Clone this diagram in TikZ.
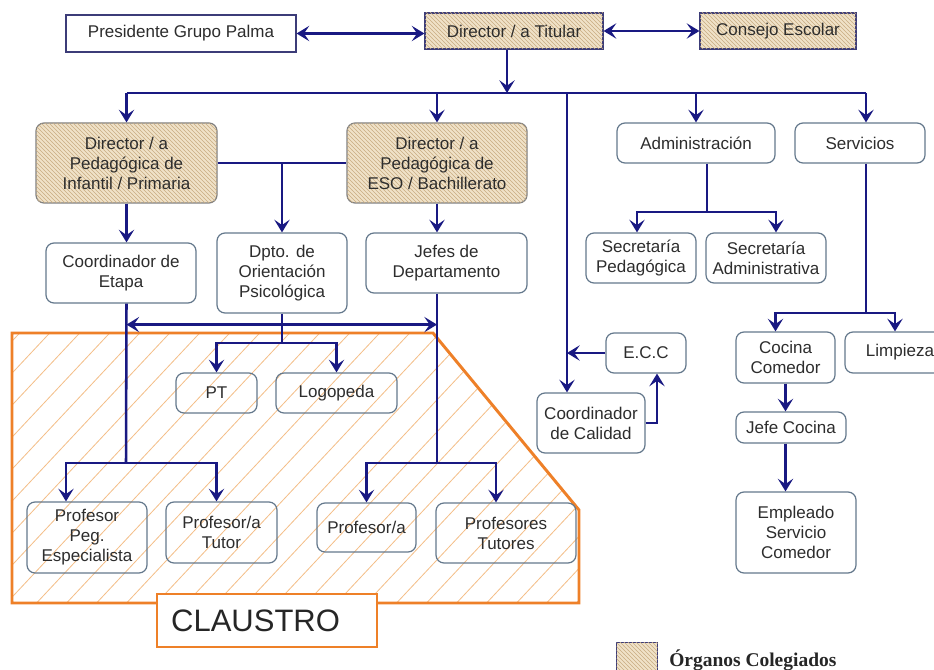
\documentclass[tikz,border=0pt]{standalone}
\usepackage{fontspec}
\setmainfont{Liberation Sans}
\newfontfamily\legfont{Liberation Serif}
\usetikzlibrary{arrows.meta, patterns, calc}

\definecolor{azulcon}{RGB}{25,25,130}
\definecolor{bordecaja}{RGB}{100,120,140}
\definecolor{bordetop}{RGB}{60,60,120}
\definecolor{textocaja}{RGB}{45,45,45}
\definecolor{tanfondo}{RGB}{240,226,200}
\definecolor{tanraya}{RGB}{200,172,130}
\definecolor{naranja}{RGB}{238,128,40}
\definecolor{naranjaclaro}{RGB}{244,190,135}

\begin{document}
\begin{tikzpicture}[x=0.75pt,y=0.75pt,yscale=-1,xscale=1,
  cargo/.style={draw=bordecaja, line width=0.9pt, rounded corners=6pt, align=center, inner sep=0pt, text=textocaja, font=\fontsize{12.75}{15}\selectfont},
  cargosq/.style={cargo, rounded corners=0pt, draw=bordetop},
  organo/.style={fill=tanfondo, postaction={pattern=north west lines, pattern color=tanraya}},
  wh/.style 2 args={minimum width=#1*0.75pt, minimum height=#2*0.75pt},
  conn/.style={draw=azulcon, line width=1.9pt},
  conarr/.style={conn, -{Stealth[length=9.5pt,width=11.5pt,inset=4pt]}},
  condbl/.style={conn, {Stealth[length=9.5pt,width=11.5pt,inset=4pt]}-{Stealth[length=9.5pt,width=11.5pt,inset=4pt]}},
  rayado/.style={draw=naranjaclaro, line width=0.6pt},
  claus/.style={draw=naranja, line width=2.2pt}]
\useasboundingbox (0,0) rectangle (934,670);
\fill[white] (0,0) rectangle (934,670);

%Shape: Claustro area
\begin{scope}
\clip (12,333) -- (433,333) -- (579,510) -- (579,603) -- (12,603) -- cycle;
\foreach \i in {-10,...,20}
  \draw[rayado] (\i*30,610) -- ++(300,-320);
\end{scope}
\draw[claus] (12,333) -- (433,333) -- (579,510) -- (579,603) -- (12,603) -- cycle;

% Top row
\node[cargosq, wh={230}{37}] (pres) at (181,33.5) {Presidente Grupo Palma};
\node[cargosq, organo, wh={178}{36}] (titular) at (514,31) {Director / a Titular};
\node[cargosq, organo, wh={156}{36}] (consejo) at (778,31) {Consejo Escolar};

% Second row
\node[cargo, organo, draw=gray, wh={181}{80}] (dirinf) at (126.5,163) {Director / a\\Pedagógica de\\Infantil / Primaria};
\node[cargo, organo, draw=gray, wh={180}{80}] (direso) at (437,163) {Director / a\\Pedagógica de\\ESO / Bachillerato};
\node[cargo, wh={158}{40}] (admin) at (696,143) {Administración};
\node[cargo, wh={130}{40}] (servicios) at (860,143) {Servicios};

% Third row
\node[cargo, wh={150}{60}] (etapa) at (121,273) {Coordinador de\\Etapa};
\node[cargo, wh={130}{80}] (orient) at (282,273) {Dpto. de\\Orientación\\Psicológica};
\node[cargo, wh={161}{60}] (jefes) at (446.5,263) {Jefes de\\Departamento};
\node[cargo, wh={110}{50}] (secped) at (641,258) {Secretaría\\Pedagógica};
\node[cargo, wh={120}{50}] (secadm) at (766,258) {Secretaría\\Administrativa};

% Lower boxes
\node[cargo, wh={81}{40}] (pt) at (216.5,393) {PT};
\node[cargo, wh={121}{40}] (logo) at (336.5,393) {Logopeda};
\node[cargo, wh={80}{40}] (ecc) at (646,353) {E.C.C};
\node[cargo, wh={108}{60}] (calidad) at (591,423) {Coordinador\\de Calidad};
\node[cargo, wh={99}{51}] (cocina) at (785.5,357.5) {Cocina\\Comedor};
\node[cargo, wh={110}{41}] (limpieza) at (900,352.5) {Limpieza};
\node[cargo, wh={110}{31}] (jefecocina) at (791,427.5) {Jefe Cocina};
\node[cargo, wh={120}{81}] (empleado) at (796,532.5) {Empleado\\Servicio\\Comedor};
\node[cargo, wh={120}{71}] (peg) at (87,537.5) {Profesor\\Peg.\\Especialista};
\node[cargo, wh={111}{61}] (tutor) at (221.5,532.5) {Profesor/a\\Tutor};
\node[cargo, wh={99}{49}] (prof) at (366.5,527.5) {Profesor/a};
\node[cargo, wh={140}{60}] (proftut) at (506,533) {Profesores\\Tutores};

% Junctions
\coordinate (bus) at (507,93);
\coordinate (busR) at (866,93);
\coordinate (cal) at (567,93);
\coordinate (admj) at (707,212);
\coordinate (servj) at (866,313);
\coordinate (orj) at (282,343);
\coordinate (cmid) at ($(orient.south)+(0,11)$);
\coordinate (ja) at (126,463);
\coordinate (jb) at (437,463);

% Connectors top
\draw[condbl] (pres.east) -- (pres.east -| titular.west);
\draw[condbl] (titular.east) -- (consejo.west);
\draw[conarr] (bus |- titular.south) -- (bus);
\draw[conn] (dirinf.north |- bus) -- (busR);
\draw[conarr] (dirinf.north |- bus) -- (dirinf.north);
\draw[conarr] (direso.north |- bus) -- (direso.north);
\draw[conarr] (admin.north |- bus) -- (admin.north);
\draw[conarr] (busR) -- (busR |- servicios.north);

% Connectors pedagogic
\draw[conn] (dirinf.east) -- (direso.west);
\draw[conarr] (orient.north |- dirinf.east) -- (orient.north);
\draw[conarr] (dirinf.south) -- (dirinf.south |- etapa.north);
\draw[conarr] (direso.south) -- (direso.south |- jefes.north);
\draw[condbl] (dirinf.south |- cmid) -- (direso.south |- cmid);
\draw[conn] (orient.south) -- (orj);
\draw[conarr] (orj) -| (pt.north);
\draw[conarr] (orj) -| (logo.north);
\draw[conn] (dirinf.south |- etapa.south) -- (ja);
\draw[conarr] (ja) -| ($(peg.north)+(-21,0)$);
\draw[conarr] (ja) -| ($(tutor.north)+(-5,0)$);
\draw[conn] (direso.south |- jefes.south) -- (jb);
\draw[conarr] (jb) -| (prof.north);
\draw[conarr] (jb) -| ($(proftut.north)+(-10,0)$);

% Connectors calidad
\draw[conarr] (cal) -- (cal |- calidad.north);
\draw[conarr] (ecc.west) -- (ecc.west -| cal);
\draw[conarr] (calidad.east) -| ($(ecc.south)+(11,0)$);

% Connectors administracion / servicios
\draw[conn] (admj |- admin.south) -- (admj);
\draw[conarr] (admj) -| ($(secped.north)+(-4,0)$);
\draw[conarr] (admj) -| ($(secadm.north)+(10,0)$);
\draw[conn] (busR |- servicios.south) -- (servj);
\draw[conarr] (servj) -| ($(cocina.north)+(-10,0)$);
\draw[conarr] (servj) -| ($(limpieza.north)+(-5,0)$);
\draw[conarr] (cocina.south) -- (cocina.south |- jefecocina.north);
\draw[conarr] (cocina.south |- jefecocina.south) -- (cocina.south |- empleado.north);

% Claustro label
\node[draw=naranja, line width=1.8pt, fill=white, wh={220}{53}, anchor=north west, inner xsep=10.5pt, text width=144pt, align=left, font=\fontsize{23.25}{26}\selectfont, text=black!85] (claustro) at (156,593) {CLAUSTRO};

% Legend
\node[organo, draw=bordetop, line width=0.9pt, wh={41}{41}, anchor=north west] (leyenda) at (616,642) {};
\node[anchor=west, font=\legfont\bfseries\fontsize{14.6}{16}\selectfont, text=black!85, inner sep=0pt] (leytexto) at (669,660) {Órganos Colegiados};

\end{tikzpicture}
\end{document}
